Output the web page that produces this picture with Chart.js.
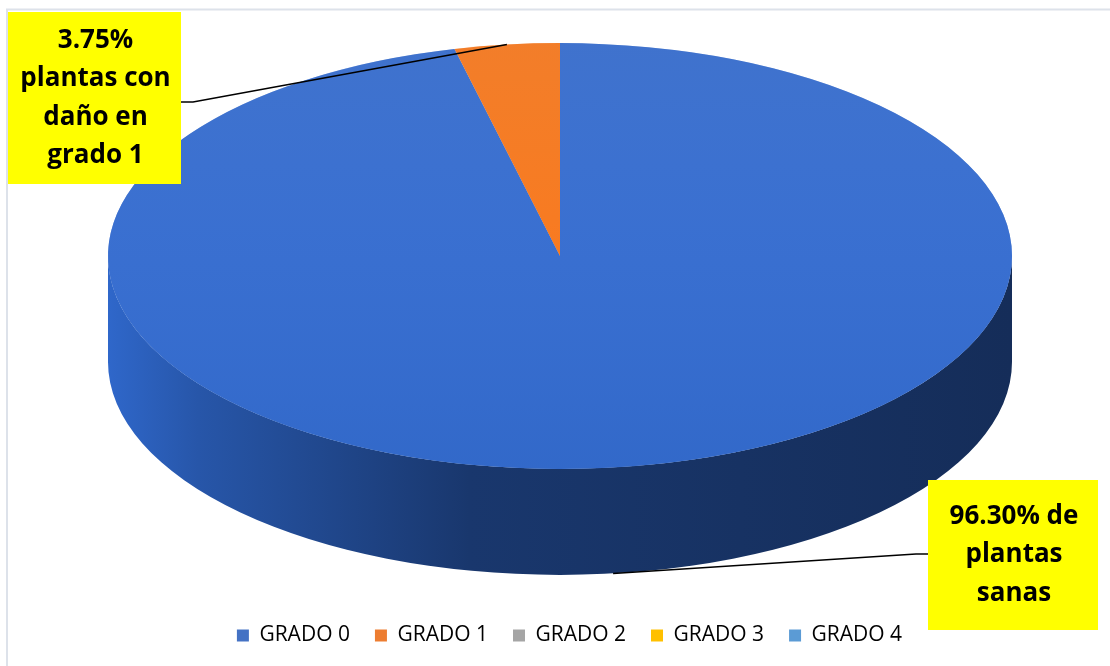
<!DOCTYPE html>
<html>
<head>
<meta charset="utf-8">
<script src="https://cdn.jsdelivr.net/npm/chart.js@4.4.1/dist/chart.umd.min.js"></script>
<style>
  body { margin: 0; background: #fff; }
  #wrap { width: 1110px; height: 666px; }
</style>
</head>
<body>
<div id="wrap"><canvas id="pieCanvas" width="1110" height="666"></canvas></div>
<script>
// data
const categories = ['GRADO 0', 'GRADO 1', 'GRADO 2', 'GRADO 3', 'GRADO 4'];
const percentValues = [96.30, 3.75, 0, 0, 0];
const sliceColors = ['#4472C4', '#ED7D31', '#A5A5A5', '#FFC000', '#5B9BD5'];
const calloutSlice = [1, 0];
const calloutText = [
    ['3.75%', 'plantas con', 'daño en', 'grado 1'],
    ['96.30% de', 'plantas', 'sanas']
];

// look of the fake 3d pie
const PIE_RADIUS = 452;
const TILT = 0.471;      // vertical squash of the top face
const DEPTH = 106;       // thickness of the side wall
const FACE_CX = 560;     // centre of the top face on screen
const FACE_CY = 256;
const boxes = [
    {x: 8, y: 12, w: 173, h: 172, side: 'right', lineY: 102},
    {x: 928, y: 480, w: 170, h: 150, side: 'left', lineY: 554}
];

// push a colour away from grey, then scale it
const tone = (hex, f, a = 1, sat = 1.3) => {
    const n = parseInt(hex.slice(1), 16);
    const c = [(n >> 16) & 255, (n >> 8) & 255, n & 255];
    const m = (c[0] + c[1] + c[2]) / 3;
    const out = c.map((v) => Math.max(0, Math.min(255, Math.round((m + (v - m) * sat) * f))));
    return `rgba(${out[0]},${out[1]},${out[2]},${a})`;
};

// front (visible) part of an arc's angle range
const frontParts = (s, e) => {
    const parts = [];
    for (let k = -1; k <= 1; k += 1) {
        const lo = Math.max(s, 2 * Math.PI * k);
        const hi = Math.min(e, 2 * Math.PI * k + Math.PI);
        if (hi > lo) parts.push([lo, hi]);
    }
    return parts;
};

const pie3d = {
    id: 'pie3d',
    beforeDraw(chart) {
        const ctx = chart.ctx;
        ctx.save();
        ctx.strokeStyle = '#dde2ea';
        ctx.lineWidth = 2;
        ctx.beginPath();
        ctx.moveTo(7, 666);
        ctx.lineTo(7, 9.5);
        ctx.lineTo(1110, 9.5);
        ctx.stroke();
        ctx.restore();
    },
    beforeDatasetsDraw(chart) {
        const ctx = chart.ctx;
        const meta = chart.getDatasetMeta(0);
        const a0 = meta.data[0];
        const sx = a0.x, sy = a0.y, r = a0.outerRadius;
        const ry = r * TILT;
        // side wall
        meta.data.forEach((arc, i) => {
            frontParts(arc.startAngle, arc.endAngle).forEach(([lo, hi]) => {
                const g = ctx.createLinearGradient(FACE_CX - r, 0, FACE_CX + r, 0);
                g.addColorStop(0, tone(sliceColors[i], 0.93));
                g.addColorStop(0.1, tone(sliceColors[i], 0.78));
                g.addColorStop(0.4, tone(sliceColors[i], 0.5));
                g.addColorStop(1, tone(sliceColors[i], 0.41));
                ctx.beginPath();
                ctx.ellipse(FACE_CX, FACE_CY, r, ry, 0, lo, hi);
                ctx.ellipse(FACE_CX, FACE_CY + DEPTH, r, ry, 0, hi, lo, true);
                ctx.closePath();
                ctx.fillStyle = g;
                ctx.fill();
            });
        });
        ctx.save();
        ctx.translate(FACE_CX, FACE_CY);
        ctx.scale(1, TILT);
        ctx.translate(-sx, -sy);
    },
    afterDatasetsDraw(chart) {
        const ctx = chart.ctx;
        const meta = chart.getDatasetMeta(0);
        const a0 = meta.data[0];
        const sx = a0.x, sy = a0.y, r = a0.outerRadius;
        // light on the top face, slice by slice
        meta.data.forEach((arc, i) => {
            if (arc.endAngle - arc.startAngle <= 0) return;
            const g = ctx.createLinearGradient(0, sy - r, 0, sy + r);
            g.addColorStop(0, tone(sliceColors[i], 1.04, 0.3));
            g.addColorStop(0.45, tone(sliceColors[i], 1, 0.6));
            g.addColorStop(1, tone(sliceColors[i], 0.93, 0.85));
            ctx.beginPath();
            ctx.moveTo(sx, sy);
            ctx.arc(sx, sy, r, arc.startAngle, arc.endAngle);
            ctx.closePath();
            ctx.fillStyle = g;
            ctx.fill();
        });
        ctx.restore();

        // callouts
        const ry = r * TILT;
        boxes.forEach((b, j) => {
            const arc = meta.data[calloutSlice[j]];
            const mid = (arc.startAngle + arc.endAngle) / 2;
            const px = FACE_CX + r * Math.cos(mid);
            let py = FACE_CY + ry * Math.sin(mid);
            if (Math.sin(mid) > 0) py += DEPTH;
            const ex = b.side === 'right' ? b.x + b.w : b.x;
            const kx = b.side === 'right' ? ex + 12 : ex - 12;
            ctx.save();
            ctx.strokeStyle = '#000';
            ctx.lineWidth = 1.5;
            ctx.beginPath();
            ctx.moveTo(ex, b.lineY);
            ctx.lineTo(kx, b.lineY);
            ctx.lineTo(px, py);
            ctx.stroke();
            ctx.fillStyle = '#FFFF00';
            ctx.fillRect(b.x, b.y, b.w, b.h);
            ctx.fillStyle = '#000';
            ctx.font = 'bold 26px "Open Sans"';
            ctx.textAlign = 'center';
            ctx.textBaseline = 'middle';
            const lines = calloutText[j];
            const step = 38.5;
            const top = b.y + b.h / 2 - step * (lines.length - 1) / 2;
            lines.forEach((t, k) => ctx.fillText(t, b.x + b.w / 2 + 1, top + k * step));
            ctx.restore();
        });
    }
};

const pieChart = new Chart(document.getElementById('pieCanvas'), {
    type: 'pie',
    data: {
        labels: categories,
        datasets: [{
            data: percentValues,
            backgroundColor: sliceColors,
            borderWidth: 0,
            clip: false
        }]
    },
    options: {
        responsive: false,
        animation: false,
        radius: PIE_RADIUS,
        rotation: 0,
        layout: {padding: {left: 29, bottom: 10}},
        plugins: {
            tooltip: {enabled: false},
            legend: {
                position: 'bottom',
                labels: {
                    color: '#515c6d',
                    font: {family: 'Open Sans', size: 21},
                    boxWidth: 12,
                    boxHeight: 12,
                    padding: 25,
                    generateLabels: () => categories.map((t, i) => ({
                        text: t,
                        fillStyle: sliceColors[i],
                        strokeStyle: sliceColors[i],
                        lineWidth: 0,
                        hidden: false,
                        index: i
                    }))
                }
            }
        }
    },
    plugins: [pie3d]
});
</script>
</body>
</html>
